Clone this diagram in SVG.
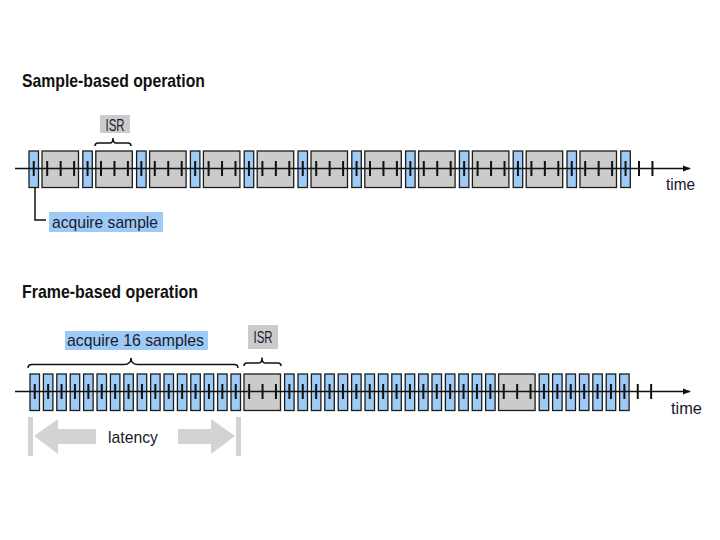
<svg xmlns="http://www.w3.org/2000/svg" width="720" height="540" viewBox="0 0 720 540">
<defs>
<style>
.t{font-family:"Liberation Sans","DejaVu Sans",Arial,sans-serif;fill:#1a1a2e}
.h{font-size:19px;font-weight:bold;fill:#111}
.l{font-size:17px}
.b{fill:#9dcbf6;stroke:#1c1c1c;stroke-width:1.3}
.g{fill:#cbcbcb;stroke:#1c1c1c;stroke-width:1.3}
.ax{stroke:#111;stroke-width:1.6;fill:none}
.tk{stroke:#111;stroke-width:2;fill:none}
.br{stroke:#111;stroke-width:1.5;fill:none}
.lat{fill:#d3d3d3}
</style>
<marker id="arr" viewBox="0 0 10 10" refX="9" refY="5" markerWidth="5" markerHeight="5" orient="auto" markerUnits="strokeWidth"><path d="M0,1 L10,5 L0,9 z" fill="#111"/></marker>
</defs>
<rect width="720" height="540" fill="#fff"/>

<g id="title-sample"><text class="t h" x="22" y="87" textLength="183" lengthAdjust="spacingAndGlyphs">Sample-based operation</text></g>
<g id="title-frame"><text class="t h" x="22" y="298" textLength="176" lengthAdjust="spacingAndGlyphs">Frame-based operation</text></g>

<!-- Top row -->
<g id="row-sample">
<g id="sample-gray">
<rect class="g" x="42" y="151" width="36.5" height="36.5"/>
<rect class="g" x="95.8" y="151" width="36.5" height="36.5"/>
<rect class="g" x="149.6" y="151" width="36.5" height="36.5"/>
<rect class="g" x="203.4" y="151" width="36.5" height="36.5"/>
<rect class="g" x="257.2" y="151" width="36.5" height="36.5"/>
<rect class="g" x="311" y="151" width="36.5" height="36.5"/>
<rect class="g" x="364.8" y="151" width="36.5" height="36.5"/>
<rect class="g" x="418.6" y="151" width="36.5" height="36.5"/>
<rect class="g" x="472.4" y="151" width="36.5" height="36.5"/>
<rect class="g" x="526.2" y="151" width="36.5" height="36.5"/>
<rect class="g" x="580" y="151" width="36.5" height="36.5"/>
</g>
<g id="sample-blue">
<rect class="b" x="29" y="151" width="9.5" height="36.5"/>
<rect class="b" x="82.8" y="151" width="9.5" height="36.5"/>
<rect class="b" x="136.6" y="151" width="9.5" height="36.5"/>
<rect class="b" x="190.4" y="151" width="9.5" height="36.5"/>
<rect class="b" x="244.2" y="151" width="9.5" height="36.5"/>
<rect class="b" x="298" y="151" width="9.5" height="36.5"/>
<rect class="b" x="351.8" y="151" width="9.5" height="36.5"/>
<rect class="b" x="405.6" y="151" width="9.5" height="36.5"/>
<rect class="b" x="459.4" y="151" width="9.5" height="36.5"/>
<rect class="b" x="513.2" y="151" width="9.5" height="36.5"/>
<rect class="b" x="567" y="151" width="9.5" height="36.5"/>
<rect class="b" x="620.8" y="151" width="9.5" height="36.5"/>
</g>
</g>

<!-- Bottom row -->
<g id="row-frame">
<g id="frame-gray">
<rect class="g" x="244" y="374" width="36.5" height="36.5"/>
<rect class="g" x="498.6" y="374" width="36.5" height="36.5"/>
</g>
<g id="frame-blue">
<rect class="b" x="30" y="374" width="9.5" height="36.5"/>
<rect class="b" x="43.4" y="374" width="9.5" height="36.5"/>
<rect class="b" x="56.8" y="374" width="9.5" height="36.5"/>
<rect class="b" x="70.2" y="374" width="9.5" height="36.5"/>
<rect class="b" x="83.6" y="374" width="9.5" height="36.5"/>
<rect class="b" x="97" y="374" width="9.5" height="36.5"/>
<rect class="b" x="110.4" y="374" width="9.5" height="36.5"/>
<rect class="b" x="123.8" y="374" width="9.5" height="36.5"/>
<rect class="b" x="137.2" y="374" width="9.5" height="36.5"/>
<rect class="b" x="150.6" y="374" width="9.5" height="36.5"/>
<rect class="b" x="164" y="374" width="9.5" height="36.5"/>
<rect class="b" x="177.4" y="374" width="9.5" height="36.5"/>
<rect class="b" x="190.8" y="374" width="9.5" height="36.5"/>
<rect class="b" x="204.2" y="374" width="9.5" height="36.5"/>
<rect class="b" x="217.6" y="374" width="9.5" height="36.5"/>
<rect class="b" x="231" y="374" width="9.5" height="36.5"/>
<rect class="b" x="284.6" y="374" width="9.5" height="36.5"/>
<rect class="b" x="298" y="374" width="9.5" height="36.5"/>
<rect class="b" x="311.4" y="374" width="9.5" height="36.5"/>
<rect class="b" x="324.8" y="374" width="9.5" height="36.5"/>
<rect class="b" x="338.2" y="374" width="9.5" height="36.5"/>
<rect class="b" x="351.6" y="374" width="9.5" height="36.5"/>
<rect class="b" x="365" y="374" width="9.5" height="36.5"/>
<rect class="b" x="378.4" y="374" width="9.5" height="36.5"/>
<rect class="b" x="391.8" y="374" width="9.5" height="36.5"/>
<rect class="b" x="405.2" y="374" width="9.5" height="36.5"/>
<rect class="b" x="418.6" y="374" width="9.5" height="36.5"/>
<rect class="b" x="432" y="374" width="9.5" height="36.5"/>
<rect class="b" x="445.4" y="374" width="9.5" height="36.5"/>
<rect class="b" x="458.8" y="374" width="9.5" height="36.5"/>
<rect class="b" x="472.2" y="374" width="9.5" height="36.5"/>
<rect class="b" x="485.6" y="374" width="9.5" height="36.5"/>
<rect class="b" x="539.2" y="374" width="9.5" height="36.5"/>
<rect class="b" x="552.6" y="374" width="9.5" height="36.5"/>
<rect class="b" x="566" y="374" width="9.5" height="36.5"/>
<rect class="b" x="579.4" y="374" width="9.5" height="36.5"/>
<rect class="b" x="592.8" y="374" width="9.5" height="36.5"/>
<rect class="b" x="606.2" y="374" width="9.5" height="36.5"/>
<rect class="b" x="619.6" y="374" width="9.5" height="36.5"/>
</g>
</g>

<!-- connectors: axes, ticks, brackets -->
<g id="connectors">
<line class="ax" x1="15" y1="168.5" x2="690" y2="168.5" marker-end="url(#arr)"/>
<line class="ax" x1="15" y1="391.5" x2="690" y2="391.5" marker-end="url(#arr)"/>
<path class="tk" d="M33.75,161v15M47.2,161v15M60.65,161v15M74.1,161v15M87.55,161v15M101,161v15M114.45,161v15M127.9,161v15M141.35,161v15M154.8,161v15M168.25,161v15M181.7,161v15M195.15,161v15M208.6,161v15M222.05,161v15M235.5,161v15M248.95,161v15M262.4,161v15M275.85,161v15M289.3,161v15M302.75,161v15M316.2,161v15M329.65,161v15M343.1,161v15M356.55,161v15M370,161v15M383.45,161v15M396.9,161v15M410.35,161v15M423.8,161v15M437.25,161v15M450.7,161v15M464.15,161v15M477.6,161v15M491.05,161v15M504.5,161v15M517.95,161v15M531.4,161v15M544.85,161v15M558.3,161v15M571.75,161v15M585.2,161v15M598.65,161v15M612.1,161v15M625.55,161v15M639,161v15M652.45,161v15"/>
<path class="tk" d="M34.75,384v15M48.15,384v15M61.55,384v15M74.95,384v15M88.35,384v15M101.75,384v15M115.15,384v15M128.55,384v15M141.95,384v15M155.35,384v15M168.75,384v15M182.15,384v15M195.55,384v15M208.95,384v15M222.35,384v15M235.75,384v15M249.15,384v15M262.55,384v15M275.95,384v15M289.35,384v15M302.75,384v15M316.15,384v15M329.55,384v15M342.95,384v15M356.35,384v15M369.75,384v15M383.15,384v15M396.55,384v15M409.95,384v15M423.35,384v15M436.75,384v15M450.15,384v15M463.55,384v15M476.95,384v15M490.35,384v15M503.75,384v15M517.15,384v15M530.55,384v15M543.95,384v15M557.35,384v15M570.75,384v15M584.15,384v15M597.55,384v15M610.95,384v15M624.35,384v15M637.75,384v15M651.15,384v15"/>
<path class="br" d="M95,146 Q95,143 98,143 L110,143 Q113,143 113,138 Q113,143 116,143 L128,143 Q131,143 131,146"/>
<path class="br" d="M28,368 Q28,364.5 32,364.5 L124,364.5 Q131,364.5 131,358 Q131,364.5 138,364.5 L234,364.5 Q238,364.5 238,368"/>
<path class="br" d="M244,366 Q244,363 247,363 L259,363 Q262,363 262,357.5 Q262,363 265,363 L278,363 Q281,363 281,366"/>
<path class="br" d="M35,188 L35,220 L46,220"/>
</g>

<g id="label-isr-top">
<rect x="100" y="115" width="30" height="18" fill="#cbcbcb"/>
<text class="t l" x="115" y="131" text-anchor="middle" textLength="19" lengthAdjust="spacingAndGlyphs">ISR</text>
</g>
<g id="label-acquire-sample">
<rect x="49" y="212" width="114" height="20" fill="#9dcbf6"/>
<text class="t l" x="52" y="228" textLength="106" lengthAdjust="spacingAndGlyphs">acquire sample</text>
</g>
<g id="label-acquire-16">
<rect x="65" y="331" width="143" height="19" fill="#9dcbf6"/>
<text class="t l" x="67" y="346" textLength="137" lengthAdjust="spacingAndGlyphs">acquire 16 samples</text>
</g>
<g id="label-isr-bottom">
<rect x="248" y="325" width="30" height="24" fill="#cbcbcb"/>
<text class="t l" x="263" y="343" text-anchor="middle" textLength="19" lengthAdjust="spacingAndGlyphs">ISR</text>
</g>
<g id="label-time-top"><text class="t l" x="666" y="190" textLength="29" lengthAdjust="spacingAndGlyphs">time</text></g>
<g id="label-time-bottom"><text class="t l" x="671" y="414" textLength="31" lengthAdjust="spacingAndGlyphs">time</text></g>

<g id="latency">
<rect class="lat" x="28" y="417" width="5" height="39"/>
<rect class="lat" x="236" y="417" width="5" height="39"/>
<polygon class="lat" points="34,436 58,419 58,429 96,429 96,444 58,444 58,454"/>
<polygon class="lat" points="235,436 211,419 211,429 178,429 178,444 211,444 211,454"/>
<text class="t l" x="108" y="443" textLength="50" lengthAdjust="spacingAndGlyphs">latency</text>
</g>
</svg>
